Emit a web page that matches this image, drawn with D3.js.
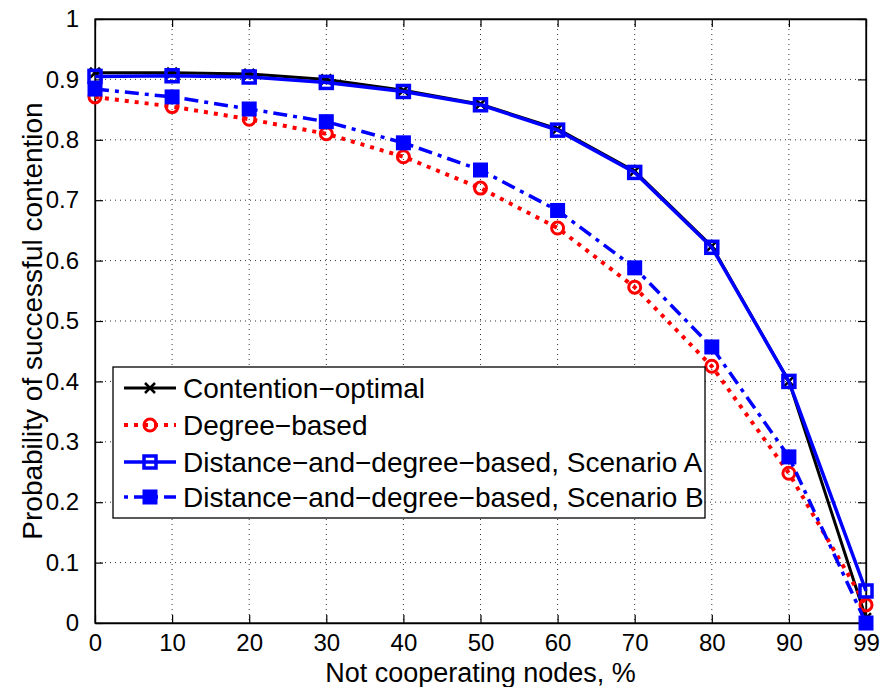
<!DOCTYPE html>
<html><head><meta charset="utf-8">
<script src="https://cdn.jsdelivr.net/npm/d3@7"></script>
<style>body{margin:0;background:#fff;} text{font-family:"Liberation Sans",Arial,Helvetica,sans-serif;}</style>
</head><body><svg id="c" width="884" height="687"></svg>
<script>
const categories = ["0","10","20","30","40","50","60","70","80","90","99"];
const yTicks = [0,0.1,0.2,0.3,0.4,0.5,0.6,0.7,0.8,0.9,1];
const contentionOptimal = [0.911,0.911,0.909,0.900,0.882,0.859,0.818,0.748,0.624,0.400,0.008];
const degreeBased = [0.871,0.855,0.834,0.810,0.772,0.720,0.654,0.556,0.425,0.248,0.030];
const scenarioA = [0.905,0.906,0.904,0.895,0.880,0.858,0.816,0.746,0.622,0.400,0.053];
const scenarioB = [0.884,0.871,0.851,0.830,0.795,0.750,0.683,0.588,0.457,0.275,0.000];
const seriesNames = ["Contention\u2212optimal","Degree\u2212based","Distance\u2212and\u2212degree\u2212based, Scenario A","Distance\u2212and\u2212degree\u2212based, Scenario B"];

const svg = d3.select("#c");
const L=95,R=866,T=19,B=623;
const x = d3.scalePoint().domain(categories).range([L,R]);
const y = d3.scaleLinear().domain([0,1]).range([B,T]);

// grid
const g = svg.append("g");
categories.forEach(c=>{ if(c!=="0"&&c!=="99") g.append("line").attr("x1",x(c)).attr("x2",x(c)).attr("y1",T).attr("y2",B).attr("stroke","#333").attr("stroke-width",1).attr("stroke-dasharray","1,4"); });
yTicks.forEach(v=>{ if(v>0&&v<1) g.append("line").attr("x1",L).attr("x2",R).attr("y1",y(v)).attr("y2",y(v)).attr("stroke","#333").attr("stroke-width",1).attr("stroke-dasharray","1,4"); });

// axes
const xa = svg.append("g").attr("transform",`translate(0,${B})`).call(d3.axisBottom(x).tickSizeInner(-8).tickSizeOuter(0).tickPadding(11));
const ya = svg.append("g").attr("transform",`translate(${L},0)`).call(d3.axisLeft(y).tickValues(yTicks).tickFormat(d=>d3.format("")(+d.toFixed(1))).tickSizeInner(-8).tickSizeOuter(0).tickPadding(16));
const xt = svg.append("g").attr("transform",`translate(0,${T})`).call(d3.axisTop(x).tickSizeInner(-8).tickSizeOuter(0).tickFormat(""));
const yr = svg.append("g").attr("transform",`translate(${R},0)`).call(d3.axisRight(y).tickValues(yTicks).tickSizeInner(-8).tickSizeOuter(0).tickFormat(""));
[xa,ya,xt,yr].forEach(a=>{a.selectAll("path").attr("stroke","#000").attr("stroke-width",1.3);a.selectAll("line").attr("stroke","#000").attr("stroke-width",1.2);a.selectAll("text").attr("font-size",24).attr("fill","#000").attr("font-family","Liberation Sans, Arial, sans-serif");});
svg.append("rect").attr("x",L).attr("y",T).attr("width",R-L).attr("height",B-T).attr("fill","none").attr("stroke","#000").attr("stroke-width",1.3);

// titles
svg.append("text").attr("x",(L+R)/2).attr("y",682).attr("text-anchor","middle").attr("font-size",27).text("Not cooperating nodes, %");
svg.append("text").attr("transform",`translate(42,${(T+B)/2}) rotate(-90)`).attr("text-anchor","middle").attr("font-size",28).text("Probability of successful contention");

const line = d3.line().x((d,i)=>x(categories[i])).y(d=>y(d));
const plot = svg.append("g");
function drawX(sel,cx,cy){const s=5;sel.append("path").attr("d",`M${cx-s},${cy-s}L${cx+s},${cy+s}M${cx-s},${cy+s}L${cx+s},${cy-s}`).attr("stroke","#000").attr("stroke-width",2.5);}
function drawCircle(sel,cx,cy){sel.append("circle").attr("cx",cx).attr("cy",cy).attr("r",6).attr("fill","none").attr("stroke","#f00").attr("stroke-width",3);}
function drawOpenSq(sel,cx,cy){const s=12;sel.append("rect").attr("x",cx-s/2).attr("y",cy-s/2).attr("width",s).attr("height",s).attr("fill","none").attr("stroke","#00f").attr("stroke-width",3.5);}
function drawFillSq(sel,cx,cy){const s=15;sel.append("rect").attr("x",cx-s/2).attr("y",cy-s/2).attr("width",s).attr("height",s).attr("fill","#00f");}

const series = [
 {data:contentionOptimal,color:"#000",dash:null,w:3,marker:drawX},
 {data:degreeBased,color:"#f00",dash:"4,6",w:4,marker:drawCircle},
 {data:scenarioA,color:"#00f",dash:null,w:3.5,marker:drawOpenSq},
 {data:scenarioB,color:"#00f",dash:"14,6,4,6",w:3.5,marker:drawFillSq}
];
series.forEach(s=>{
  plot.append("path").datum(s.data).attr("d",line).attr("fill","none").attr("stroke",s.color).attr("stroke-width",s.w).attr("stroke-dasharray",s.dash);
  s.data.forEach((v,i)=>s.marker(plot,x(categories[i]),y(v)));
});

// legend
const lg = svg.append("g");
lg.append("rect").attr("x",113).attr("y",367).attr("width",592).attr("height",151).attr("fill","#fff").attr("stroke","#000").attr("stroke-width",1.3);
const rows=[388,425,462,497];
series.forEach((s,i)=>{
  const yy=rows[i];
  lg.append("line").attr("x1",124).attr("x2",176).attr("y1",yy).attr("y2",yy).attr("stroke",s.color).attr("stroke-width",s.w).attr("stroke-dasharray",s.dash==="14,6,4,6"?"4,6,14,6":s.dash);
  s.marker(lg,150,yy);
  lg.append("text").attr("x",183).attr("y",yy+10).attr("font-size",28).text(seriesNames[i]);
});
</script></body></html>
